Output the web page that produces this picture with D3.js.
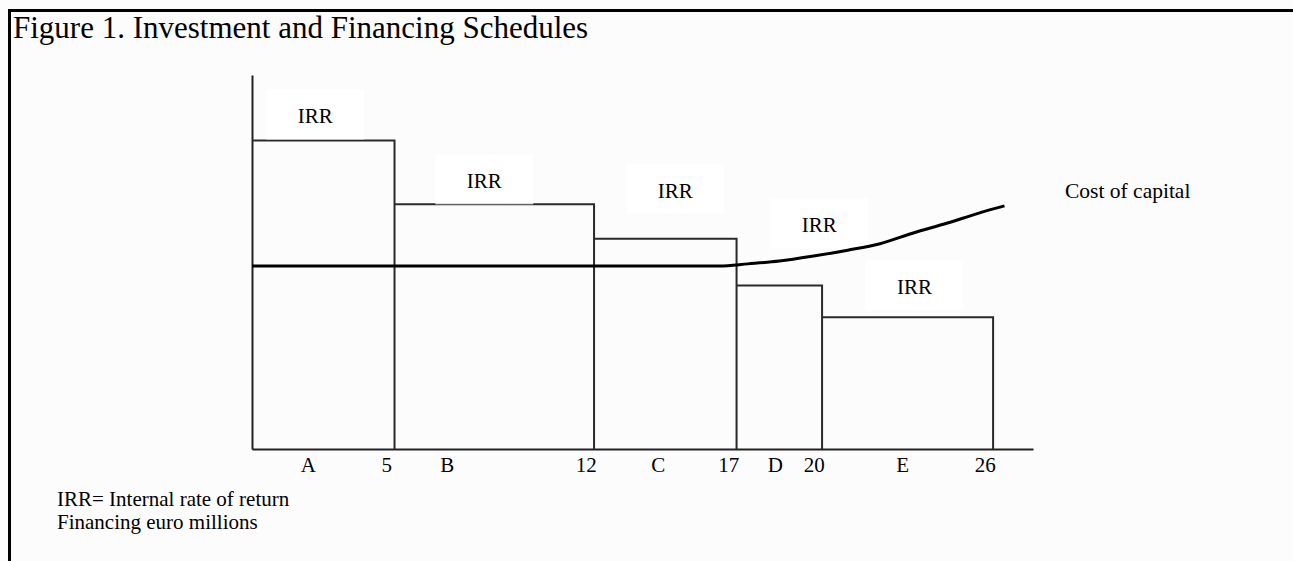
<!DOCTYPE html>
<html>
<head>
<meta charset="utf-8">
<script src="https://cdn.jsdelivr.net/npm/d3@7"></script>
<style>
  body { margin: 0; padding: 0; background: #fcfcfc; }
  svg  { display: block; font-family: "Liberation Serif", "DejaVu Serif", serif; }
</style>
</head>
<body>
<script>
// ---- data ----
var projects   = ["A", "B", "C", "D", "E"];
var cumFinance = [5, 12, 17, 20, 26];            // euro millions, end of each project
var irr        = [9.9, 7.85, 6.75, 5.25, 4.23];  // internal rate of return, %

var costFinance = [0, 16.4, 17.4, 18.5, 19.7, 20.9, 22.0, 23.2, 24.4, 25.5, 26.4];
var costRate    = [5.87, 5.87, 5.94, 6.03, 6.19, 6.38, 6.58, 6.93, 7.25, 7.57, 7.80];

var titleText = "Figure 1. Investment and Financing Schedules";
var notes     = ["IRR= Internal rate of return", "Financing euro millions"];

// ---- page ----
var W = 1293, H = 561;
var svg = d3.select("body").append("svg").attr("width", W).attr("height", H);

// frame: thick top rule and left rule
svg.append("line").attr("x1", 8).attr("x2", W).attr("y1", 10.5).attr("y2", 10.5)
   .attr("stroke", "#000").attr("stroke-width", 3);
svg.append("line").attr("x1", 9.5).attr("x2", 9.5).attr("y1", 9).attr("y2", H)
   .attr("stroke", "#000").attr("stroke-width", 3);

svg.append("text").attr("x", 13).attr("y", 38)
   .attr("font-size", 31).attr("fill", "#000").text(titleText);

// scales
var x = d3.scaleLinear().domain([0, 27.4]).range([252, 1033]);
var y = d3.scaleLinear().domain([0, 12]).range([449, 75]);

// axes (lines only, labels handled below)
var xAxis = d3.axisBottom(x).tickValues(cumFinance).tickSize(0).tickPadding(8);
var gx = svg.append("g").attr("transform", "translate(0," + y(0) + ")").call(xAxis);
gx.select(".domain").attr("stroke", "#222").attr("stroke-width", 2);
gx.selectAll("text").attr("font-size", 21).attr("font-family", "Liberation Serif")
  .attr("fill", "#000").attr("dx", "-0.4em");

var yAxis = d3.axisLeft(y).tickValues([]).tickSizeOuter(0);
var gy = svg.append("g").attr("transform", "translate(" + x(0) + ",0)").call(yAxis);
gy.select(".domain").attr("stroke", "#222").attr("stroke-width", 2);

// project letters between the boundaries (hand placed in the original)
var starts = [0].concat(cumFinance.slice(0, -1));
var letterShift = [-15, -47, -7, -4, -5];
svg.selectAll("text.proj").data(projects).enter().append("text")
   .attr("class", "proj")
   .attr("x", function (d, i) { return (x(starts[i]) + x(cumFinance[i])) / 2 + letterShift[i]; })
   .attr("y", 472).attr("font-size", 21).attr("text-anchor", "middle")
   .attr("fill", "#000").text(function (d) { return d; });

// investment schedule (descending steps)
svg.selectAll("path.step").data(projects).enter().append("path")
   .attr("class", "step")
   .attr("d", function (d, i) {
       return "M" + x(starts[i]) + "," + y(irr[i]) +
              "H" + x(cumFinance[i]) + "V" + y(0);
   })
   .attr("fill", "none").attr("stroke", "#2a2a2a").attr("stroke-width", 2);

// IRR labels sit in small white boxes; lift tuned so they clear the curve
var lift  = [17, 16, 41, 53, 23];
var shift = [-8, -10, 10, 40, 7];
var labels = svg.selectAll("g.irr").data(projects).enter().append("g")
   .attr("class", "irr")
   .attr("transform", function (d, i) {
       var cx = (x(starts[i]) + x(cumFinance[i])) / 2 + shift[i];
       return "translate(" + cx + "," + (y(irr[i]) - lift[i]) + ")";
   });
labels.append("rect").attr("x", -49).attr("y", -34).attr("width", 98).attr("height", 50)
      .attr("fill", "#fff").attr("opacity", 0.8);
labels.append("text").attr("text-anchor", "middle").attr("font-size", 21)
      .attr("fill", "#000").text("IRR");

// cost of capital (financing schedule)
var costLine = d3.line()
   .x(function (d, i) { return x(costFinance[i]); })
   .y(function (d) { return y(d); })
   .curve(d3.curveMonotoneX);
svg.append("path").datum(costRate).attr("d", costLine)
   .attr("fill", "none").attr("stroke", "#000").attr("stroke-width", 3);

svg.append("text").attr("x", 1065).attr("y", 198).attr("font-size", 21.5)
   .attr("fill", "#000").text("Cost of capital");

// footnotes
svg.selectAll("text.note").data(notes).enter().append("text")
   .attr("class", "note").attr("x", 57)
   .attr("y", function (d, i) { return 506 + i * 23; })
   .attr("font-size", 21).attr("fill", "#000").text(function (d) { return d; });
</script>
</body>
</html>
